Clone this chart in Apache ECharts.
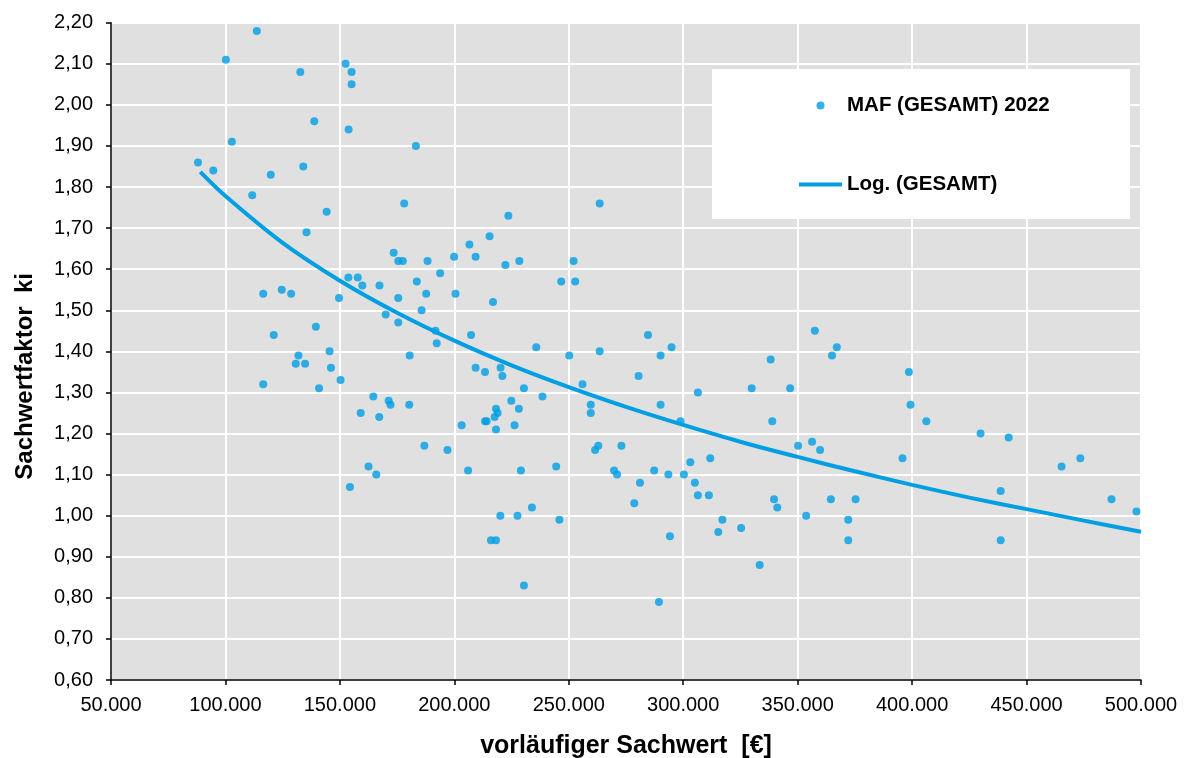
<!DOCTYPE html>
<html>
<head>
<meta charset="utf-8">
<script src="https://cdn.jsdelivr.net/npm/echarts@6/dist/echarts.min.js"></script>
<style>
html,body{margin:0;padding:0;background:#fff;}
#chart{width:1190px;height:758px;}
</style>
</head>
<body>
<div id="chart"></div>
<script>
// vorläufiger Sachwert [€]
const sachwert = [
  88000,94700,100200,113700,132700,152500,155100,155100,138800,153800,
  102800,134000,119800,111700,144200,135400,173500,183200,178100,175500,
  177500,188300,199900,206600,209300,116500,124600,128700,153700,157800,
  159800,167300,149600,175500,183600,187700,193800,200500,170000,185700,
  175500,191800,192300,207300,121100,139500,131900,130700,134800,145500,
  146100,150300,180500,209300,116500,140900,164600,171300,172100,180300,
  159100,167200,186900,197000,162500,165900,154400,263500,223600,215400,
  222300,228400,252100,246700,252800,216900,235800,250200,263500,284600,
  290100,294900,280500,213400,220200,221000,256000,230400,238500,259600,
  259600,290100,306400,329900,338200,338900,298800,224900,228200,218200,
  218900,217600,213400,214100,203200,218200,226300,206000,229100,244500,
  261500,262900,273000,269800,271100,287300,293500,300300,303100,311800,
  281100,278600,305100,306400,311200,317100,315300,325300,333400,339700,
  341100,294200,289400,220100,227600,233900,245900,216000,218200,230400,
  357500,365000,367100,346700,398600,399300,406200,429900,442200,350200,
  356300,359800,395800,465300,473500,364500,375300,353700,372100,372100,
  438700,438700,487100,498000
];
// Sachwertfaktor ki
const faktor = [
  1.86,1.84,2.11,2.18,2.08,2.10,2.08,2.05,1.96,1.94,
  1.91,1.85,1.83,1.78,1.74,1.69,1.64,1.90,1.76,1.62,
  1.62,1.62,1.63,1.66,1.63,1.54,1.55,1.54,1.58,1.58,
  1.56,1.56,1.53,1.53,1.57,1.54,1.59,1.54,1.49,1.50,
  1.47,1.45,1.42,1.44,1.44,1.46,1.39,1.37,1.37,1.40,
  1.36,1.33,1.39,1.36,1.32,1.31,1.29,1.28,1.27,1.27,
  1.25,1.24,1.17,1.16,1.12,1.10,1.07,1.76,1.73,1.68,
  1.61,1.62,1.62,1.57,1.57,1.52,1.41,1.39,1.40,1.44,
  1.39,1.41,1.34,1.35,1.36,1.34,1.32,1.31,1.29,1.27,
  1.25,1.27,1.30,1.31,1.38,1.23,1.23,1.28,1.26,1.26,
  1.25,1.24,1.23,1.23,1.22,1.21,1.22,1.11,1.11,1.12,
  1.16,1.17,1.17,1.11,1.10,1.11,1.10,1.10,1.13,1.14,
  1.08,1.03,1.08,1.05,1.05,0.99,0.96,0.97,0.88,1.04,
  1.02,0.95,0.79,1.00,1.00,1.02,0.99,0.94,0.94,0.83,
  1.45,1.39,1.41,1.31,1.35,1.27,1.23,1.20,1.19,1.17,
  1.18,1.16,1.14,1.12,1.14,1.04,1.04,1.00,0.99,0.94,
  1.06,0.94,1.04,1.01
];
// logarithmic trendline "Log. (GESAMT)"
const trendSachwert = [89000,100000,125000,150000,175000,200000,225000,250000,275000,300000,325000,350000,375000,400000,425000,450000,475000,500000];
const trendFaktor   = [1.837,1.778,1.664,1.572,1.494,1.426,1.366,1.313,1.265,1.221,1.180,1.143,1.108,1.075,1.044,1.016,0.988,0.961];

const xTickLabels = ['50.000','100.000','150.000','200.000','250.000','300.000','350.000','400.000','450.000','500.000'];
const yTickLabels = ['0,60','0,70','0,80','0,90','1,00','1,10','1,20','1,30','1,40','1,50','1,60','1,70','1,80','1,90','2,00','2,10','2,20'];
const seriesNames = ['MAF (GESAMT) 2022', 'Log. (GESAMT)'];

const xMin = 50000, xMax = 500000, xStep = 50000;
const yMin = 0.6, yMax = 2.2, yStep = 0.1;

const points = sachwert.map((x, i) => [x, faktor[i]]);
const trend = trendSachwert.map((x, i) => [x, trendFaktor[i]]);

const blue = '#009FE3';
const font = 'Liberation Sans, Arial, sans-serif';
const chart = echarts.init(document.getElementById('chart'), null, {renderer: 'canvas'});
chart.setOption({
  animation: false,
  backgroundColor: '#ffffff',
  textStyle: {fontFamily: font},
  grid: {left: 111, right: 49, top: 22.7, bottom: 78, outerBoundsMode: 'none', containLabel: false,
    show: true, backgroundColor: '#E0E0E0', borderWidth: 0},
  xAxis: {
    type: 'value', min: xMin, max: xMax, interval: xStep,
    name: 'vorläufiger Sachwert  [€]', nameLocation: 'middle', nameGap: 54,
    nameTextStyle: {fontSize: 25, fontWeight: 'bold', color: '#000', fontFamily: font},
    axisLine: {show: true, onZero: false, lineStyle: {color: '#000', width: 1.5}},
    axisTick: {show: true, inside: false, length: 5, lineStyle: {color: '#000', width: 1.5}},
    axisLabel: {margin: 15, fontSize: 20, color: '#000', fontFamily: font,
      formatter: v => xTickLabels[Math.round((v - xMin) / xStep)]},
    splitLine: {show: true, lineStyle: {color: '#ffffff', width: 2}}
  },
  yAxis: {
    type: 'value', min: yMin, max: yMax, interval: yStep,
    name: 'Sachwertfaktor  ki', nameLocation: 'middle', nameGap: 74, nameRotate: 90,
    nameTextStyle: {fontSize: 24, fontWeight: 'bold', color: '#000', fontFamily: font, padding: [0, 50, 0, 0]},
    axisLine: {show: true, onZero: false, lineStyle: {color: '#000', width: 1.5}},
    axisTick: {show: true, inside: false, length: 5, lineStyle: {color: '#000', width: 1.5}},
    axisLabel: {margin: 18, fontSize: 20, color: '#000', fontFamily: font,
      formatter: v => yTickLabels[Math.round((v - yMin) / yStep)]},
    splitLine: {show: true, lineStyle: {color: '#ffffff', width: 2}}
  },
  graphic: [{
    type: 'rect', left: 712, top: 69, z: 3,
    shape: {width: 418, height: 150},
    style: {fill: '#ffffff'}
  }],
  legend: {
    orient: 'vertical', left: 799, top: 95, itemGap: 58, padding: 0,
    itemWidth: 43, itemHeight: 8, z: 5,
    textStyle: {fontSize: 20.5, fontWeight: 'bold', color: '#000', fontFamily: font},
    data: [
      {name: seriesNames[0], icon: 'circle'},
      {name: seriesNames[1], icon: 'path://M0,0L44,0L44,4L0,4Z'}
    ]
  },
  series: [
    {
      name: seriesNames[0], type: 'scatter', data: points,
      symbol: 'circle', symbolSize: 8,
      itemStyle: {color: blue}
    },
    {
      name: seriesNames[1], type: 'line', data: trend,
      showSymbol: false, symbol: 'none', smooth: 0.3,
      lineStyle: {color: blue, width: 4},
      itemStyle: {color: blue}
    }
  ]
});
</script>
</body>
</html>
